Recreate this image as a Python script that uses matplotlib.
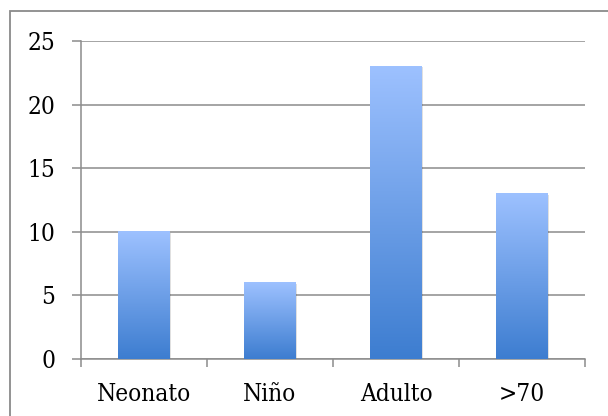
import numpy as np
import matplotlib
matplotlib.use("Agg")
import matplotlib.pyplot as plt
from matplotlib.patches import Rectangle
from matplotlib.colors import LinearSegmentedColormap

categories = ["Neonato", "Niño", "Adulto", ">70"]
values = [10, 6, 23, 13]
yticks = [0, 5, 10, 15, 20, 25]

plt.rcParams["font.family"] = ["DejaVu Serif", "Liberation Serif"]
plt.rcParams["font.stretch"] = "condensed"

fig = plt.figure(figsize=(6.08, 4.16), dpi=100)
W, H = 608, 416
ax = fig.add_axes([81 / W, 1 - 359 / H, (585 - 81) / W, (359 - 41) / H])

grid_c = "#8c8c8c"
# outer chart frame
fig.patches.append(Rectangle((9.5 / W, -0.1), 1.2, 1 - 11 / H + 0.1,
                             transform=fig.transFigure, fill=False,
                             edgecolor="#8a8a8a", linewidth=1.3, zorder=0))

cmap = LinearSegmentedColormap.from_list("bar", ["#3d7dd0", "#9dc1ff"])
grad = np.linspace(0, 1, 256).reshape(-1, 1)
bw = 0.41
x = np.arange(len(categories))
for xi, v in zip(x, values):
    # soft shadow
    ax.add_patch(Rectangle((xi - bw / 2 + 0.012, 0), bw, v - 0.08,
                           facecolor="#000000", alpha=0.12, linewidth=0, zorder=2))
    ax.imshow(grad, cmap=cmap, origin="lower", aspect="auto",
              extent=(xi - bw / 2, xi + bw / 2, 0, v), zorder=3,
              interpolation="bilinear")

ax.set_xlim(-0.5, len(categories) - 0.5)
ax.set_ylim(0, 25)
ax.set_yticks(yticks)
ax.set_xticks(x)
ax.set_xticklabels(categories)
ax.set_xticks(np.arange(-0.5, len(categories), 1.0), minor=True)

ax.grid(axis="y", color=grid_c, linewidth=1.1, zorder=1)
ax.set_axisbelow(True)
for s in ["top", "right"]:
    ax.spines[s].set_visible(False)
for s in ["left", "bottom"]:
    ax.spines[s].set_color(grid_c)
    ax.spines[s].set_linewidth(1.1)

ax.tick_params(axis="y", direction="out", length=6.5, width=1.1, color=grid_c,
               pad=12, labelsize=17.5)
ax.tick_params(axis="x", which="major", length=0, pad=17, labelsize=17.5)
ax.tick_params(axis="x", which="minor", direction="out", length=6, width=1.1,
               color=grid_c)

fig.savefig("out.png", dpi=100)
